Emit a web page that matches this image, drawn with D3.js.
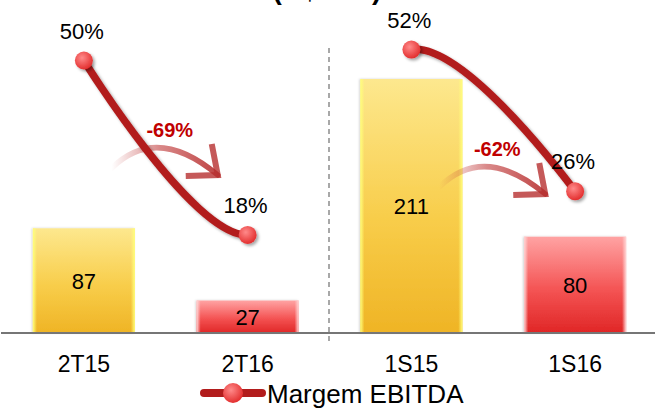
<!DOCTYPE html>
<html>
<head>
<meta charset="utf-8">
<script src="https://cdn.jsdelivr.net/npm/d3@7"></script>
<style>
  html, body { margin: 0; padding: 0; background: #ffffff; }
  svg { display: block; }
  text { font-family: "Liberation Sans", Arial, sans-serif; }
</style>
</head>
<body>
<script>
// EBITDA (R$ MM) by period, with EBITDA margin on a secondary scale
const categories = ["2T15", "2T16", "1S15", "1S16"];
const ebitda = [87, 27, 211, 80];
const marginPct = [50, 18, 52, 26];
const barTone = ["base", "current", "base", "current"];
const variations = [
  { from: 0, to: 1, label: "-69%" },
  { from: 2, to: 3, label: "-62%" }
];
const legendLabel = "Margem EBITDA";
const subtitle = "(R$ MM)";

const W = 659, H = 409;
const baseY = 333;

const svg = d3.select("body").append("svg")
  .attr("width", W).attr("height", H);

const defs = svg.append("defs");

// bar gradients
const gBase = defs.append("linearGradient").attr("id", "gBase")
  .attr("x1", 0).attr("y1", 0).attr("x2", 0).attr("y2", 1);
gBase.append("stop").attr("offset", "0%").attr("stop-color", "#fde88e");
gBase.append("stop").attr("offset", "55%").attr("stop-color", "#f8cd4a");
gBase.append("stop").attr("offset", "100%").attr("stop-color", "#efb425");

const gCur = defs.append("linearGradient").attr("id", "gCur")
  .attr("x1", 0).attr("y1", 0).attr("x2", 0).attr("y2", 1);
gCur.append("stop").attr("offset", "0%").attr("stop-color", "#ffa3a3");
gCur.append("stop").attr("offset", "55%").attr("stop-color", "#f45454");
gCur.append("stop").attr("offset", "100%").attr("stop-color", "#e02626");

// side glow for the bars
const gEdgeBase = defs.append("linearGradient").attr("id", "gEdgeBase")
  .attr("x1", 0).attr("y1", 0).attr("x2", 1).attr("y2", 0);
[["0%", "#ffff7a", 1], ["4%", "#ffff7a", 0], ["96%", "#ffff7a", 0], ["100%", "#ffff7a", 1]]
  .forEach(([o, c, a]) => gEdgeBase.append("stop").attr("offset", o).attr("stop-color", c).attr("stop-opacity", a));
const gEdgeCur = defs.append("linearGradient").attr("id", "gEdgeCur")
  .attr("x1", 0).attr("y1", 0).attr("x2", 1).attr("y2", 0);
[["0%", "#ffd6d6", 1], ["4%", "#ffd6d6", 0], ["96%", "#ffd6d6", 0], ["100%", "#ffd6d6", 1]]
  .forEach(([o, c, a]) => gEdgeCur.append("stop").attr("offset", o).attr("stop-color", c).attr("stop-opacity", a));

// marker fill
const gDot = defs.append("radialGradient").attr("id", "gDot")
  .attr("cx", "40%").attr("cy", "35%").attr("r", "65%");
gDot.append("stop").attr("offset", "0%").attr("stop-color", "#ff8a8a");
gDot.append("stop").attr("offset", "100%").attr("stop-color", "#e32f2f");

const shadow = defs.append("filter").attr("id", "shadow")
  .attr("x", "-30%").attr("y", "-30%").attr("width", "160%").attr("height", "160%");
shadow.append("feDropShadow").attr("dx", 2).attr("dy", 2)
  .attr("stdDeviation", 1.6).attr("flood-color", "#000").attr("flood-opacity", 0.35);

const barShadow = defs.append("filter").attr("id", "barShadow")
  .attr("x", "-10%").attr("y", "-10%").attr("width", "120%").attr("height", "120%");
barShadow.append("feDropShadow").attr("dx", -1).attr("dy", 0)
  .attr("stdDeviation", 1.2).attr("flood-color", "#000").attr("flood-opacity", 0.18);

// scales
const x = d3.scaleBand().domain(categories).range([2, 657])
  .paddingInner(0.377).paddingOuter(0.1885);
const yBar = d3.scaleLinear().domain([0, 270]).range([baseY, 8]);
const yPct = d3.scaleLinear().domain([0, 60]).range([baseY, 6]);
const cx = c => x(c) + x.bandwidth() / 2;

// subtitle, running off the top edge
svg.append("text")
  .attr("x", 327).attr("y", -1)
  .attr("text-anchor", "middle")
  .attr("font-size", 28).attr("font-weight", "bold")
  .attr("fill", "#000")
  .text(subtitle);

// separator between quarter and semester
svg.append("line")
  .attr("x1", 329).attr("x2", 329)
  .attr("y1", 48).attr("y2", 341)
  .attr("stroke", "#8c8c8c").attr("stroke-width", 1.5)
  .attr("stroke-dasharray", "5,4");

// bars
const bars = svg.append("g").selectAll("g.bar")
  .data(categories.map((c, i) => ({ c, v: ebitda[i], tone: barTone[i] })))
  .join("g").attr("class", "bar");

bars.append("rect")
  .attr("x", d => x(d.c))
  .attr("y", d => yBar(d.v))
  .attr("width", x.bandwidth())
  .attr("height", d => yBar(0) - yBar(d.v))
  .attr("fill", d => d.tone === "base" ? "url(#gBase)" : "url(#gCur)")
  .attr("filter", "url(#barShadow)");

bars.append("rect")
  .attr("x", d => x(d.c))
  .attr("y", d => yBar(d.v))
  .attr("width", x.bandwidth())
  .attr("height", d => yBar(0) - yBar(d.v))
  .attr("fill", d => d.tone === "base" ? "url(#gEdgeBase)" : "url(#gEdgeCur)");

bars.append("text")
  .attr("x", d => cx(d.c))
  .attr("y", d => (yBar(d.v) + yBar(0)) / 2 + 8)
  .attr("text-anchor", "middle")
  .attr("font-size", 22)
  .attr("fill", "#000")
  .text(d => d.v);

// baseline axis
const axis = svg.append("g").attr("transform", `translate(0,${baseY})`)
  .call(d3.axisBottom(x).tickSize(0).tickPadding(0));
axis.select(".domain").attr("d", "M1,0H655").attr("stroke", "#767676").attr("stroke-width", 2);
axis.selectAll(".tick text")
  .attr("y", 39).attr("dy", null)
  .attr("font-size", 23)
  .attr("font-family", "Liberation Sans, Arial, sans-serif")
  .attr("fill", "#000");

// variation arrows between periods
const arrowShape = {
  tail: [-54, 0], ctrl: [-9, -44], tip: [52, 7],
  arm1: [46, -24], arm2: [20, 8], label: [4, -31]
};
const arrowLevels = [168, 187];
variations.forEach((v, i) => {
  const mx = (cx(categories[v.from]) + cx(categories[v.to])) / 2;
  const by = arrowLevels[i];
  const P = k => [mx + arrowShape[k][0], by + arrowShape[k][1]];
  const gid = "gArrow" + i;
  const g = defs.append("linearGradient").attr("id", gid)
    .attr("gradientUnits", "userSpaceOnUse")
    .attr("x1", P("tail")[0]).attr("y1", 0)
    .attr("x2", P("tip")[0]).attr("y2", 0);
  g.append("stop").attr("offset", "0%").attr("stop-color", "#c03a3a").attr("stop-opacity", 0);
  g.append("stop").attr("offset", "45%").attr("stop-color", "#c03a3a").attr("stop-opacity", 0.6);
  g.append("stop").attr("offset", "100%").attr("stop-color", "#b52a2a").attr("stop-opacity", 0.88);

  const p = d3.path();
  p.moveTo(...P("tail"));
  p.quadraticCurveTo(...P("ctrl"), ...P("tip"));
  svg.append("path").attr("d", p.toString())
    .attr("fill", "none").attr("stroke", `url(#${gid})`)
    .attr("stroke-width", 5.5).attr("stroke-linecap", "round");

  svg.append("path")
    .attr("d", d3.line()([P("arm1"), P("tip"), P("arm2")]))
    .attr("fill", "none").attr("stroke", "#b73030").attr("stroke-opacity", 0.8)
    .attr("stroke-width", 6).attr("stroke-linejoin", "miter");

  svg.append("text")
    .attr("x", P("label")[0]).attr("y", P("label")[1])
    .attr("text-anchor", "middle")
    .attr("font-size", 20).attr("font-weight", "bold")
    .attr("fill", "#c00000")
    .text(v.label);
});

// margin line: one smoothed series, drawn only within each comparison pair
const pts = categories.map((c, i) => [cx(c), yPct(marginPct[i])]);
const lineGen = d3.line().curve(d3.curveCardinal.tension(0));
variations.forEach((v, i) => {
  defs.append("clipPath").attr("id", "clipSeg" + i)
    .append("rect")
    .attr("x", pts[v.from][0]).attr("y", 0)
    .attr("width", pts[v.to][0] - pts[v.from][0]).attr("height", H);
  svg.append("path")
    .attr("d", lineGen(pts))
    .attr("clip-path", `url(#clipSeg${i})`)
    .attr("fill", "none").attr("stroke", "#b21c1c")
    .attr("stroke-width", 7.5)
    .attr("filter", "url(#shadow)");
});

svg.append("g").selectAll("circle")
  .data(pts).join("circle")
  .attr("cx", d => d[0]).attr("cy", d => d[1])
  .attr("r", 9)
  .attr("fill", "url(#gDot)")
  .attr("filter", "url(#shadow)");

svg.append("g").selectAll("text")
  .data(pts).join("text")
  .attr("x", d => d[0] - 2)
  .attr("y", d => d[1] - 22)
  .attr("text-anchor", "middle")
  .attr("font-size", 22)
  .attr("fill", "#000")
  .text((d, i) => marginPct[i] + "%");

// legend
const lg = svg.append("g").attr("transform", "translate(204,393)");
lg.append("line").attr("x1", 0).attr("x2", 58).attr("y1", 0).attr("y2", 0)
  .attr("stroke", "#b21c1c").attr("stroke-width", 8).attr("stroke-linecap", "round");
lg.append("circle").attr("cx", 29).attr("cy", 0).attr("r", 10)
  .attr("fill", "url(#gDot)");
lg.append("text").attr("x", 63).attr("y", 10)
  .attr("font-size", 26).attr("fill", "#000")
  .text(legendLabel);
</script>
</body>
</html>
